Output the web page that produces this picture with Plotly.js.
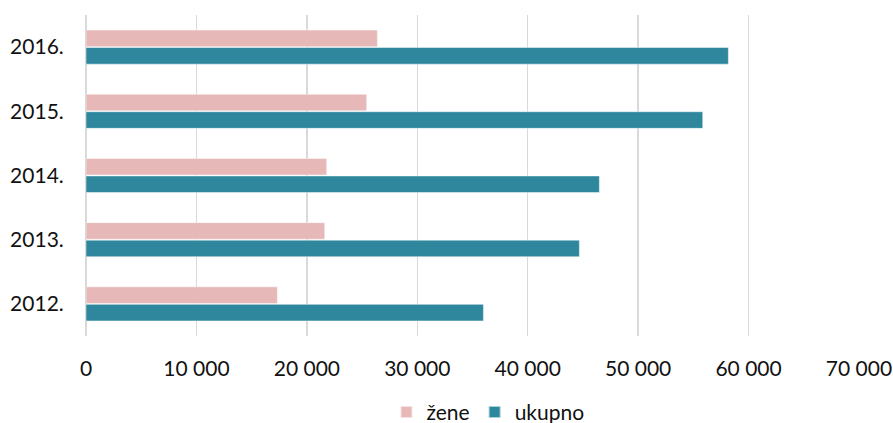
<!DOCTYPE html>
<html>
<head>
<meta charset="utf-8">
<script src="https://cdn.plot.ly/plotly-3.0.1.min.js"></script>
<style>html,body{margin:0;padding:0;background:#fff;}#chart{width:893px;height:423px;}</style>
</head>
<body>
<div id="chart"></div>
<script>
const years = ['2012.', '2013.', '2014.', '2015.', '2016.'];
const zene = [17330, 21620, 21800, 25420, 26390];
const ukupno = [35990, 44680, 46490, 55850, 58170];
const xTicks = [0, 10000, 20000, 30000, 40000, 50000, 60000, 70000];
const xTickLabels = ['0', '10 000', '20 000', '30 000', '40 000', '50 000', '60 000', '70 000'];

const FONT = 'Lato, "Open Sans", sans-serif';

const traces = [
  {
    type: 'bar', orientation: 'h', name: 'ukupno',
    y: years, x: ukupno,
    marker: {color: '#2E879D', line: {color: 'rgba(255,255,255,0.6)', width: 0.8}},
    hoverinfo: 'x'
  },
  {
    type: 'bar', orientation: 'h', name: 'žene',
    y: years, x: zene,
    marker: {color: '#E6B9B8', line: {color: 'rgba(255,255,255,0.6)', width: 0.8}},
    hoverinfo: 'x'
  }
];

const layout = {
  width: 893, height: 423,
  margin: {l: 86, r: 34, t: 15, b: 87, autoexpand: false},
  paper_bgcolor: '#fff', plot_bgcolor: '#fff',
  font: {family: FONT, size: 21, color: '#111'},
  barmode: 'group',
  bargap: 0.455,
  bargroupgap: 0.05,
  showlegend: true,
  legend: {
    orientation: 'h', traceorder: 'reversed',
    x: 0.52, xanchor: 'center', y: -0.174, yanchor: 'top',
    font: {family: FONT, size: 21, color: '#111'},
    itemwidth: 30, itemsizing: 'constant'
  },
  xaxis: {
    range: [0, 70000],
    tickvals: xTicks, ticktext: xTickLabels,
    showgrid: true, gridcolor: '#d9d9d9', gridwidth: 1.3,
    zeroline: true, zerolinecolor: '#d9d9d9', zerolinewidth: 1.3,
    showline: false,
    ticks: 'outside', ticklen: 14, tickcolor: 'rgba(0,0,0,0)',
    tickfont: {family: FONT, size: 21, color: '#111'},
    fixedrange: true
  },
  yaxis: {
    type: 'category',
    categoryorder: 'array', categoryarray: years,
    showgrid: false, zeroline: false, showline: false,
    ticks: 'outside', ticklen: 17, tickcolor: 'rgba(0,0,0,0)',
    tickfont: {family: FONT, size: 21, color: '#111'},
    fixedrange: true
  }
};

Plotly.newPlot('chart', traces, layout, {displayModeBar: false, staticPlot: true});
</script>
</body>
</html>
